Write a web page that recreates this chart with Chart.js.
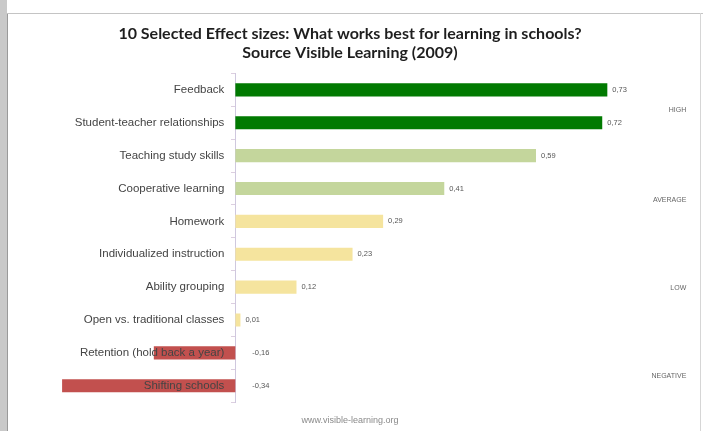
<!DOCTYPE html>
<html>
<head>
<meta charset="utf-8">
<script src="https://cdn.jsdelivr.net/npm/chart.js@4/dist/chart.umd.min.js"></script>
<style>
  body { margin: 0; background: #fff; }
  #wrap { position: relative; width: 703px; height: 431px; overflow: hidden; }
  #chart { position: absolute; left: 0; top: 0; }
  .strip { position: absolute; left: 0; top: 0; width: 7px; height: 431px; background: #c9c9c9; }
  .edgeL { position: absolute; left: 7px; top: 13px; width: 1px; height: 418px; background: #9a9a9a; }
  .edgeT { position: absolute; left: 7px; top: 13px; width: 696px; height: 1px; background: #c4c4c4; }
  .edgeR { position: absolute; left: 700px; top: 13px; width: 1px; height: 418px; background: #d6d6d6; }
</style>
</head>
<body>
<div id="wrap">
  <canvas id="chart" width="703" height="431"></canvas>
  <div class="strip"></div>
  <div class="edgeL"></div>
  <div class="edgeT"></div>
  <div class="edgeR"></div>
</div>
<script>
var categories = ["Feedback", "Student-teacher relationships", "Teaching study skills",
    "Cooperative learning", "Homework", "Individualized instruction", "Ability grouping",
    "Open vs. traditional classes", "Retention (hold back a year)", "Shifting schools"];
var effectSizes = [0.73, 0.72, 0.59, 0.41, 0.29, 0.23, 0.12, 0.01, -0.16, -0.34];
var barColors = ["#017a01", "#017a01", "#c4d69c", "#c4d69c", "#f5e49e", "#f5e49e",
    "#f5e49e", "#f5e49e", "#c2504e", "#c2504e"];

// band names on the right, placed at a (fractional) category index
var bandLabels = ["HIGH", "AVERAGE", "LOW", "NEGATIVE"];
var bandAt = [0.63, 3.36, 6.03, 8.71];

function fmt(v) {
    return v.toFixed(2).replace('.', ',');
}

// category names sit left of the zero line and are drawn over the bars
var textLabels = {
    id: 'textLabels',
    afterDatasetsDraw: function (chart) {
        var ctx = chart.ctx;
        var meta = chart.getDatasetMeta(0);
        var xs = chart.scales.x;
        var ys = chart.scales.y;
        var zero = xs.getPixelForValue(0);
        ctx.save();
        ctx.textBaseline = 'middle';

        ctx.font = '11.5px "Liberation Sans", Arial, sans-serif';
        ctx.fillStyle = '#444';
        ctx.textAlign = 'right';
        for (var k = 0; k < categories.length; k++) {
            ctx.fillText(categories[k], zero - 11, ys.getPixelForValue(k));
        }

        ctx.font = '7.5px "Liberation Sans", Arial, sans-serif';
        ctx.fillStyle = '#555';
        ctx.textAlign = 'left';
        for (var i = 0; i < effectSizes.length; i++) {
            var bar = meta.data[i];
            var x = effectSizes[i] >= 0 ? bar.x + 5 : zero + 17;
            ctx.fillText(fmt(effectSizes[i]), x, bar.y);
        }

        ctx.font = '7px "Liberation Sans", Arial, sans-serif';
        ctx.fillStyle = '#666';
        ctx.textAlign = 'right';
        for (var j = 0; j < bandLabels.length; j++) {
            ctx.fillText(bandLabels[j], xs.getPixelForValue(0.885), ys.getPixelForValue(bandAt[j]));
        }
        ctx.restore();
    }
};

var ctx = document.getElementById('chart').getContext('2d');
var chart = new Chart(ctx, {
    type: 'bar',
    data: {
        labels: categories,
        datasets: [{
            data: effectSizes,
            backgroundColor: barColors,
            borderWidth: 0,
            categoryPercentage: 1,
            barPercentage: 0.4
        }]
    },
    options: {
        indexAxis: 'y',
        responsive: false,
        animation: false,
        layout: { padding: { top: 14, bottom: 5, left: 57, right: 60 } },
        plugins: {
            legend: { display: false },
            tooltip: { enabled: false },
            title: {
                display: true,
                text: ["10 Selected Effect sizes: What works best for learning in schools?",
                    "Source Visible Learning (2009)"],
                color: '#1e1e1e',
                font: { family: 'Lato, "Liberation Sans", sans-serif', size: 16, weight: 'bold', lineHeight: 1.2 },
                padding: { top: 10, bottom: 11 }
            },
            subtitle: {
                display: true,
                position: 'bottom',
                text: "www.visible-learning.org",
                color: '#8a8a8a',
                font: { family: '"Liberation Sans", Arial, sans-serif', size: 9, lineHeight: 1.2 },
                padding: { top: 13, bottom: 0 }
            }
        },
        scales: {
            x: {
                display: false,
                min: -0.35,
                max: 0.8
            },
            y: {
                position: { x: 0 },
                grid: {
                    display: true,
                    drawOnChartArea: false,
                    offset: true,
                    tickLength: 4,
                    color: '#dccfe0'
                },
                border: { display: true, color: '#cfc8de', width: 1 },
                ticks: { display: false }
            }
        }
    },
    plugins: [textLabels]
});
</script>
</body>
</html>
